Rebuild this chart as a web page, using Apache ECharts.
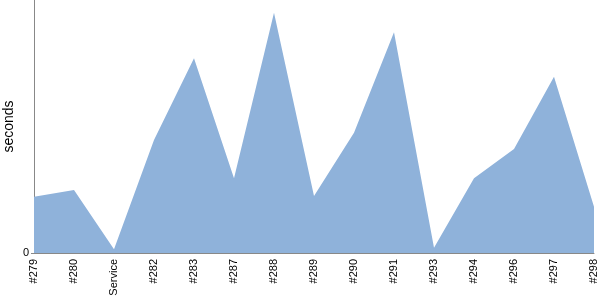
<!DOCTYPE html>
<html>
<head>
<meta charset="utf-8">
<script src="https://cdn.jsdelivr.net/npm/echarts@6/dist/echarts.min.js"></script>
<style>html,body{margin:0;padding:0;background:#fff}#c{width:600px;height:300px}</style>
</head>
<body>
<div id="c"></div>
<script>
const categories = ['#279','#280','Service','#282','#283','#287','#288','#289','#290','#291','#293','#294','#296','#297','#298'];
const seconds = [56.3, 63, 3.7, 113, 194.7, 74.7, 240.3, 57, 120.3, 220.7, 5.3, 74.7, 104, 176.3, 46.3];
const yMax = 253;
const yTickValues = [0];

const chart = echarts.init(document.getElementById('c'), null, {renderer: 'canvas'});
chart.setOption({
  animation: false,
  grid: {left: 34, right: 6, top: 0, bottom: 47, containLabel: false, outerBoundsMode: 'none'},
  xAxis: {
    type: 'category',
    data: categories,
    boundaryGap: false,
    axisLine: {show: true, lineStyle: {color: '#888', width: 1}},
    axisTick: {show: false},
    axisLabel: {rotate: 90, interval: 0, margin: 6, color: '#000', fontSize: 11, fontFamily: 'Liberation Sans'},
    splitLine: {show: false}
  },
  yAxis: {
    type: 'value',
    min: 0,
    max: yMax,
    name: 'seconds',
    nameLocation: 'middle',
    nameGap: 18,
    nameMoveOverlap: false,
    nameTextStyle: {color: '#000', fontSize: 14, fontFamily: 'Liberation Sans'},
    axisLine: {show: true, lineStyle: {color: '#888', width: 1}},
    axisTick: {show: true, length: 3, lineStyle: {color: '#888'}, customValues: yTickValues},
    axisLabel: {
      color: '#000', fontSize: 11, fontFamily: 'Liberation Sans', margin: 5,
      customValues: yTickValues
    },
    splitLine: {show: false}
  },
  series: [{
    type: 'line',
    data: seconds,
    symbol: 'none',
    lineStyle: {width: 0, color: '#8fb2da'},
    areaStyle: {color: '#8fb2da', opacity: 1}
  }]
});
</script>
</body>
</html>
